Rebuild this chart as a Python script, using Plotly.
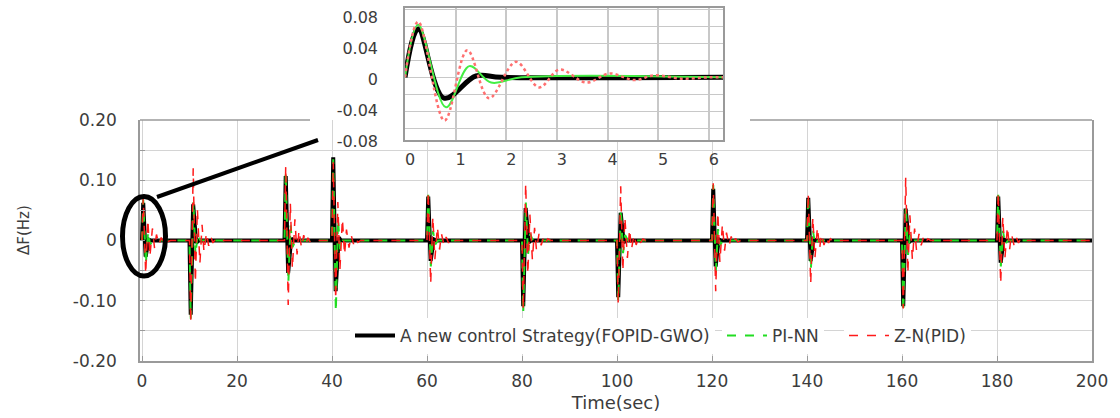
import plotly.graph_objects as go

# ---------------- data ----------------
event_times = [0, 10, 30, 40, 60, 80, 100, 120, 140, 160, 180]

# time offsets (s) of the successive extrema after each disturbance
black_offsets = [0.26, 0.77, 1.40]
green_offsets = [0.26, 0.81, 1.27, 1.70]
red_offsets = [0.26, 0.78, 1.23, 1.66, 2.19, 2.65, 3.05, 3.58, 4.04, 4.53, 4.93, 5.46]
black_settle = 1.9
green_settle = 2.3
red_settle = 6.0

# extrema values (Hz) for every disturbance
black_extrema = [
    [0.0624, -0.0269, 0.0017],
    [-0.123, 0.060, -0.004],
    [0.107, -0.054, 0.003],
    [0.138, -0.084, 0.005],
    [0.073, -0.034, 0.002],
    [-0.109, 0.054, -0.003],
    [-0.094, 0.046, -0.003],
    [0.086, -0.043, 0.002],
    [0.071, -0.034, 0.002],
    [-0.109, 0.053, -0.003],
    [0.073, -0.037, 0.002],
]
green_extrema = [
    [0.0679, -0.0388, 0.0145, -0.0068],
    [-0.130, 0.065, -0.025, 0.011],
    [0.115, -0.070, 0.025, -0.011],
    [0.135, -0.118, 0.035, -0.015],
    [0.076, -0.043, 0.016, -0.007],
    [-0.119, 0.063, -0.024, 0.011],
    [-0.101, 0.052, -0.021, 0.009],
    [0.092, -0.051, 0.019, -0.008],
    [0.075, -0.048, 0.016, -0.007],
    [-0.119, 0.057, -0.024, 0.011],
    [0.076, -0.043, 0.016, -0.007],
]
red_extrema = [
    [0.072, -0.056, 0.035, -0.027, 0.020, -0.013, 0.010, -0.0068, 0.005, -0.0035, 0.0026, -0.0017],
    [-0.137, 0.120, -0.070, 0.053, -0.038, 0.026, -0.019, 0.013, -0.009, 0.006, -0.004, 0.0025],
    [0.124, -0.107, 0.062, -0.047, 0.035, -0.023, 0.017, -0.012, 0.009, -0.006, 0.0045, -0.003],
    [0.130, -0.098, 0.064, -0.049, 0.036, -0.024, 0.018, -0.012, 0.009, -0.006, 0.0045, -0.003],
    [0.082, -0.072, 0.040, -0.031, 0.023, -0.015, 0.011, -0.0077, 0.0057, -0.004, 0.003, -0.002],
    [-0.115, 0.095, -0.056, 0.043, -0.032, 0.021, -0.016, 0.011, -0.008, 0.0056, -0.004, 0.0028],
    [-0.105, 0.090, -0.051, 0.039, -0.029, 0.019, -0.015, 0.0099, -0.0074, 0.0051, -0.0038, 0.0025],
    [0.095, -0.084, 0.047, -0.036, 0.027, -0.017, 0.013, -0.009, 0.0067, -0.0047, 0.0034, -0.0023],
    [0.079, -0.072, 0.039, -0.030, 0.022, -0.014, 0.011, -0.0074, 0.0055, -0.0039, 0.0028, -0.0019],
    [-0.113, 0.104, -0.055, 0.042, -0.032, 0.020, -0.016, 0.011, -0.0079, 0.0055, -0.004, 0.0027],
    [0.081, -0.072, 0.040, -0.030, 0.023, -0.015, 0.011, -0.0076, 0.0057, -0.004, 0.0029, -0.0019],
]

t_end = 200
inset_t_end = 6.3

y_tickvals = [-0.2, -0.1, 0, 0.1, 0.2]
y_ticktext = ["-0.20", "-0.10", "0", "0.10", "0.20"]
inset_y_tickvals = [-0.08, -0.04, 0, 0.04, 0.08]
inset_y_ticktext = ["-0.08", "-0.04", "0", "0.04", "0.08"]

names = ["A new control Strategy(FOPID-GWO)", "PI-NN", "Z-N(PID)"]
x_title = "Time(sec)"
y_title = "ΔF(Hz)"


def build(offsets, settle, extrema, events, end):
    xs, ys = [], []
    for t0, vals in zip(events, extrema):
        xs.append(t0)
        ys.append(0.0)
        for o, v in zip(offsets, vals):
            xs.append(t0 + o)
            ys.append(v)
        xs.append(t0 + settle)
        ys.append(0.0)
    xs.append(end)
    ys.append(0.0)
    return xs, ys


FONT = "DejaVu Sans"
TXT = "#3c3c3c"
GRID = "#d4d4d4"
FRAME = "#9a9a9a"

# pixel helpers for decorations (plot area: x 140..1092, y 8..361)
L, R, T, B = 140, 28, 8, 57
W, H = 1120, 418
PW, PH = W - L - R, H - T - B


def px(xp):
    return (xp - L) / PW


def py(yp):
    return (T + PH - yp) / PH


fig = go.Figure()

series = [
    (black_offsets, black_settle, black_extrema,
     dict(color="black", width=4), dict(color="black", width=5, shape="spline"), "legend"),
    (green_offsets, green_settle, green_extrema,
     dict(color="#22dd22", width=2, dash="dash"), dict(color="#44ee44", width=2, shape="spline"), "legend2"),
    (red_offsets, red_settle, red_extrema,
     dict(color="#ff1a1a", width=1.5, dash="dash"), dict(color="#ff7070", width=2.5, dash="dot", shape="spline"), "legend3"),
]

for name, (offs, settle, ext, main_line, inset_line, leg) in zip(names, series):
    xs, ys = build(offs, settle, ext, event_times, t_end)
    fig.add_trace(go.Scatter(x=xs, y=ys, mode="lines", name=name, line=main_line,
                             xaxis="x", yaxis="y", legend=leg))
for name, (offs, settle, ext, main_line, inset_line, leg) in zip(names, series):
    xs, ys = build(offs, settle, ext[:1], event_times[:1], inset_t_end)
    fig.add_trace(go.Scatter(x=xs, y=ys, mode="lines", name=name, line=inset_line,
                             xaxis="x2", yaxis="y2", showlegend=False))

main_top = py(120)
LEGFONT = dict(family=FONT, size=17, color=TXT)


def legend_at(xpix):
    return dict(orientation="h", x=px(xpix), y=py(336), xanchor="left", yanchor="middle",
                bgcolor="white", font=LEGFONT, itemwidth=40)


fig.update_layout(
    width=W, height=H,
    margin=dict(l=L, r=R, t=T, b=B, autoexpand=False),
    paper_bgcolor="white", plot_bgcolor="white",
    font=dict(family=FONT, size=15, color=TXT),
    showlegend=True,
    legend=legend_at(350),
    legend2=legend_at(722),
    legend3=legend_at(844),
    xaxis=dict(domain=[0, 1], range=[-0.42, 200], anchor="y", automargin=False,
               tickmode="linear", tick0=0, dtick=20,
               showgrid=True, gridcolor=GRID, gridwidth=1,
               showline=True, linecolor=FRAME, linewidth=1.5, mirror=False,
               ticks="inside", ticklen=5, tickcolor=FRAME, zeroline=False,
               ticklabelstandoff=4,
               tickfont=dict(family=FONT, size=17, color=TXT),
               title=dict(text=x_title, font=dict(family=FONT, size=18, color=TXT), standoff=6)),
    yaxis=dict(domain=[0, main_top], range=[-0.2, 0.2], anchor="x", automargin=False,
               tickmode="array", tickvals=y_tickvals, ticktext=y_ticktext,
               showgrid=True, gridcolor=GRID, gridwidth=1,
               minor=dict(dtick=0.05, tick0=0, showgrid=True, gridcolor=GRID, ticks="inside",
                          ticklen=5, tickcolor=FRAME),
               showline=True, linecolor=FRAME, linewidth=1.5, mirror=True,
               ticks="inside", ticklen=5, tickcolor=FRAME, zeroline=False,
               ticklabelstandoff=18,
               tickfont=dict(family=FONT, size=17, color=TXT)),
    xaxis2=dict(domain=[px(405), px(723)], range=[0, 6.28], anchor="y2", automargin=False,
                tickmode="linear", tick0=0, dtick=1,
                showgrid=True, gridcolor="#c8c8c8", gridwidth=1.5,
                showline=True, linecolor=FRAME, linewidth=1.5, mirror=True,
                ticks="", zeroline=False, ticklabelshift=5, ticklabelstandoff=4,
                tickfont=dict(family=FONT, size=16, color=TXT)),
    yaxis2=dict(domain=[py(140), 1], range=[-0.081, 0.0896], anchor="x2", automargin=False,
                tickmode="array", tickvals=inset_y_tickvals, ticktext=inset_y_ticktext,
                showgrid=False,
                minor=dict(tickmode="linear", tick0=0, dtick=0.022, showgrid=True,
                           gridcolor="#c8c8c8", gridwidth=1.2, ticks=""),
                showline=True, linecolor=FRAME, linewidth=1.5, mirror=True,
                ticks="", zeroline=False, ticklabelstandoff=22, ticklabelshift=2,
                tickfont=dict(family=FONT, size=16, color=TXT)),
)

# y-axis title
fig.add_annotation(text=y_title, xref="paper", yref="paper", x=px(24), y=py(230),
                   xanchor="center", yanchor="middle", textangle=-90, showarrow=False,
                   font=dict(family=FONT, size=15, color=TXT))

# top frame of the main plot (interrupted where the inset sits)
for x0, x1 in [(140, 310), (750, 1092)]:
    fig.add_shape(type="line", xref="paper", yref="paper", x0=px(x0), x1=px(x1),
                  y0=main_top, y1=main_top, line=dict(color=FRAME, width=1.5), layer="above")

# zoom ellipse and connector
fig.add_shape(type="circle", xref="paper", yref="paper",
              x0=px(122.5), x1=px(165.5), y0=py(276), y1=py(196.5),
              line=dict(color="black", width=5), layer="above")
fig.add_shape(type="line", xref="paper", yref="paper",
              x0=px(157), y0=py(197), x1=px(318), y1=py(140),
              line=dict(color="black", width=4), layer="above")

fig.write_html("out.html")
